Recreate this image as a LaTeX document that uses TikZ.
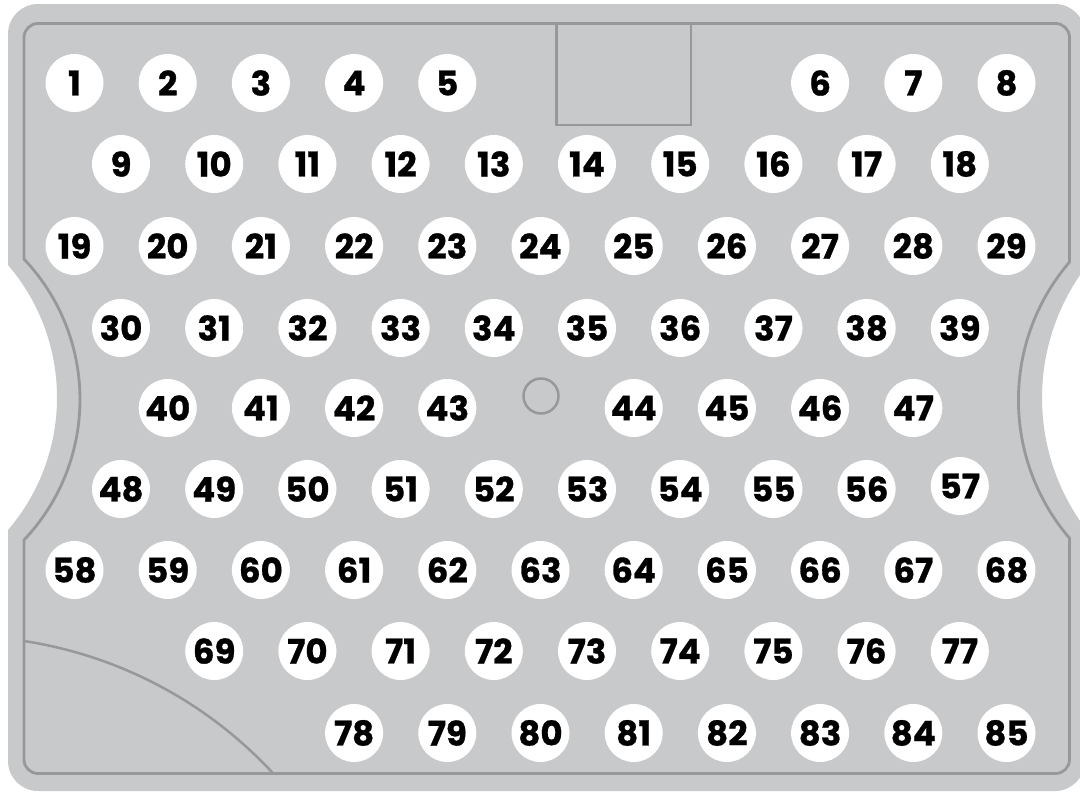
\documentclass[tikz,border=0pt]{standalone}
\usepackage{fontspec}
\newfontfamily\numfont{Poppins}[BoldFeatures={FakeBold=0.8}]
\definecolor{plate}{RGB}{200,201,203}
\definecolor{rim}{RGB}{151,152,154}
\begin{document}
\begin{tikzpicture}[x=1pt,y=-1pt,
  num/.style={circle,fill=white,minimum size=58,inner sep=0pt,
    font=\numfont\bfseries\fontsize{34}{34}\selectfont,text=black},
  rimline/.style={draw=rim,line width=2.8pt}]
\useasboundingbox (0,0) rectangle (1080,793);
\clip (0,0) rectangle (1080,793);
% plate
\fill[plate] (38,4) -- (1055,4) arc[start angle=-90,end angle=0,radius=30]
  -- (1085,268) arc[start angle=216.6,end angle=143.4,radius=218]
  -- (1085,761) arc[start angle=0,end angle=90,radius=30]
  -- (38,791) arc[start angle=90,end angle=180,radius=30]
  -- (8,530) arc[start angle=40.6,end angle=-40.6,radius=203.6]
  -- (8,34) arc[start angle=180,end angle=270,radius=30] -- cycle;
% inner outline
\draw[rimline] (38,23.5) -- (1055.5,23.5) arc[start angle=-90,end angle=0,radius=14]
  -- (1069.5,262) arc[start angle=220.6,end angle=139.4,radius=212.2]
  -- (1069.5,759.5) arc[start angle=0,end angle=90,radius=14]
  -- (38,773.5) arc[start angle=90,end angle=180,radius=14]
  -- (24,540) arc[start angle=43.46,end angle=-43.46,radius=204.25]
  -- (24,37.5) arc[start angle=180,end angle=270,radius=14] -- cycle;
% top window
\draw[rimline] (556.7,23.5) -- (556.7,125) -- (691,125) -- (691,23.5);
% centre hole
\node[circle,draw=rim,line width=2.5pt,minimum size=35,inner sep=0pt] (hole) at (541,396) {};
% bottom-left arc
\draw[rimline,line width=2.5pt] (24,641) arc[start angle=-81.3,end angle=-42.8,radius=427];
% numbered circles: number / column / row y / row offset
\foreach \n/\k/\y/\o in {
 1/0/83/74.5, 2/1/83/74.5, 3/2/83/74.5, 4/3/83/74.5, 5/4/83/74.5,
 6/8/83/74.5, 7/9/83/74.5, 8/10/83/74.5,
 9/0/164/121, 10/1/164/121, 11/2/164/121, 12/3/164/121, 13/4/164/121,
 14/5/164/121, 15/6/164/121, 16/7/164/121, 17/8/164/121, 18/9/164/121,
 19/0/246/74.5, 20/1/246/74.5, 21/2/246/74.5, 22/3/246/74.5, 23/4/246/74.5,
 24/5/246/74.5, 25/6/246/74.5, 26/7/246/74.5, 27/8/246/74.5, 28/9/246/74.5, 29/10/246/74.5,
 30/0/328/121, 31/1/328/121, 32/2/328/121, 33/3/328/121, 34/4/328/121,
 35/5/328/121, 36/6/328/121, 37/7/328/121, 38/8/328/121, 39/9/328/121,
 40/1/408/74.5, 41/2/408/74.5, 42/3/408/74.5, 43/4/408/74.5,
 44/6/408/74.5, 45/7/408/74.5, 46/8/408/74.5, 47/9/408/74.5,
 48/0/489/121, 49/1/489/121, 50/2/489/121, 51/3/489/121, 52/4/489/121,
 53/5/489/121, 54/6/489/121, 55/7/489/121, 56/8/489/121, 57/9/486/121,
 58/0/570/74.5, 59/1/570/74.5, 60/2/570/74.5, 61/3/570/74.5, 62/4/570/74.5,
 63/5/570/74.5, 64/6/570/74.5, 65/7/570/74.5, 66/8/570/74.5, 67/9/570/74.5, 68/10/570/74.5,
 69/1/651/121, 70/2/651/121, 71/3/651/121, 72/4/651/121, 73/5/651/121,
 74/6/651/121, 75/7/651/121, 76/8/651/121, 77/9/651/121,
 78/3/733/74.5, 79/4/733/74.5, 80/5/733/74.5, 81/6/733/74.5, 82/7/733/74.5,
 83/8/733/74.5, 84/9/733/74.5, 85/10/733/74.5}
  \node[num] (n\n) at ({\o+93.2*\k},\y) {\n};
\end{tikzpicture}
\end{document}
